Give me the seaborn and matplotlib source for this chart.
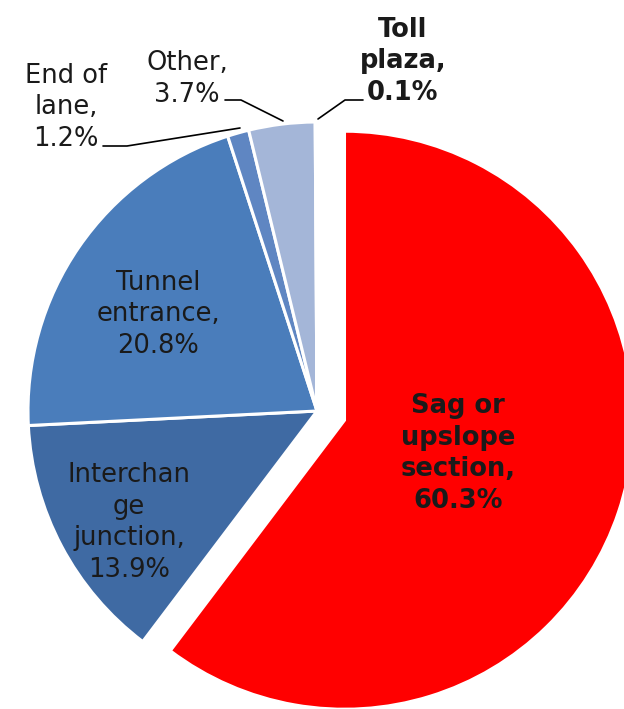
import numpy as np
import matplotlib
matplotlib.use("Agg")
import matplotlib.pyplot as plt
import seaborn as sns

# ----- Data -----
categories = ["Sag or\nupslope\nsection", "Interchan\nge\njunction", "Tunnel\nentrance",
              "End of\nlane", "Other", "Toll\nplaza"]
shares = [60.3, 13.9, 20.8, 1.2, 3.7, 0.1]
slice_colors = ["#ff0000", "#3f6aa3", "#4a7dbb", "#5f86c2", "#a4b6d8", "#c9d4e8"]

sns.set_theme(style="white")
plt.rcParams["font.family"] = ["DejaVu Sans"]

fig = plt.figure(figsize=(6.24, 7.09), dpi=100)
ax = fig.add_axes([0, 0, 1, 1])

R = 289
cx, cy = 317, 411
explode = [29, 0, 0, 0, 0, 0]  # absolute offset, data units = pixels

# y axis is flipped (pixel frame), so counterclock here is clockwise on screen
wedges, _ = ax.pie(shares, radius=R, center=(cx, cy), startangle=-90,
                   counterclock=True, colors=slice_colors, explode=explode,
                   wedgeprops=dict(edgecolor="white", linewidth=2.2), frame=True)
ax.set_xlim(0, 624)
ax.set_ylim(709, 0)
ax.set_aspect("equal")
ax.axis("off")

txt = "#1a1a1a"
fs = 18.5
ls = 1.28

def label(x, y, i, bold=False):
    ax.text(x, y, f"{categories[i]},\n{shares[i]}%", ha="center", va="baseline",
            fontsize=fs, fontweight="bold" if bold else "normal", color=txt,
            linespacing=ls)

# labels inside the slices (y = baseline of last line)
label(458, 508, 0, bold=True)
label(129, 577, 1)
label(158, 353, 2)

# outside labels with leader lines
label(66, 146, 3)
ax.plot([103, 127, 240], [146, 146, 128], color="black", lw=1.2)
label(187, 102, 4)
ax.plot([225, 241, 283], [100, 100, 121], color="black", lw=1.2)
label(403, 100, 5, bold=True)
ax.plot([363, 345, 318], [100, 100, 119], color="black", lw=1.2)

fig.savefig("out.png", dpi=100)
